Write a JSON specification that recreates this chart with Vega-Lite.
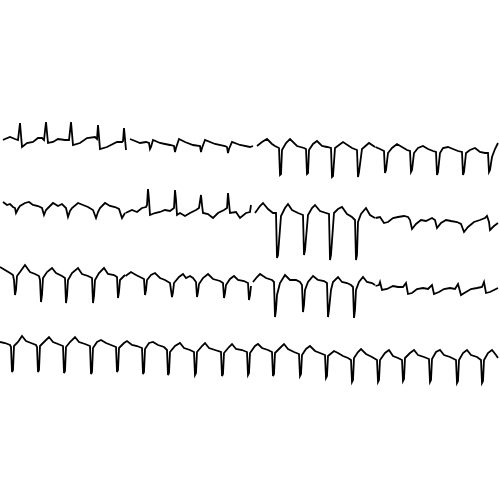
{
"$schema":"https://vega.github.io/schema/vega-lite/v6.json",
"width":500,"height":500,"padding":0,
"autosize":{"type":"fit","contains":"padding"},
"background":"white",
"config":{"view":{"stroke":null}},
"datasets":{"ecg":[
{"lead":"I","t":3,"v":140},{"lead":"I","t":5,"v":139},{"lead":"I","t":10,"v":137},{"lead":"I","t":15,"v":139},{"lead":"I","t":18,"v":140},{"lead":"I","t":20,"v":123},{"lead":"I","t":22,"v":147},{"lead":"I","t":27,"v":143},{"lead":"I","t":33,"v":142},{"lead":"I","t":38,"v":138},{"lead":"I","t":42,"v":138},{"lead":"I","t":44,"v":140},{"lead":"I","t":46,"v":122},{"lead":"I","t":48,"v":143},{"lead":"I","t":53,"v":142},{"lead":"I","t":58,"v":139},{"lead":"I","t":65,"v":140},{"lead":"I","t":69,"v":140},{"lead":"I","t":71,"v":122},{"lead":"I","t":73,"v":145},{"lead":"I","t":80,"v":143},{"lead":"I","t":87,"v":138},{"lead":"I","t":95,"v":137},{"lead":"I","t":97,"v":139},{"lead":"I","t":98,"v":125},{"lead":"I","t":100,"v":149},{"lead":"I","t":107,"v":147},{"lead":"I","t":117,"v":142},{"lead":"I","t":122,"v":142},{"lead":"I","t":123,"v":141},{"lead":"I","t":124,"v":128},{"lead":"I","t":126,"v":150},
{"lead":"aVR","t":130,"v":139},{"lead":"aVR","t":135,"v":141},{"lead":"aVR","t":140,"v":143},{"lead":"aVR","t":146,"v":142},{"lead":"aVR","t":149,"v":143},{"lead":"aVR","t":150,"v":149},{"lead":"aVR","t":151,"v":147},{"lead":"aVR","t":153,"v":140},{"lead":"aVR","t":160,"v":143},{"lead":"aVR","t":165,"v":144},{"lead":"aVR","t":170,"v":145},{"lead":"aVR","t":174,"v":146},{"lead":"aVR","t":175,"v":152},{"lead":"aVR","t":176,"v":148},{"lead":"aVR","t":179,"v":139},{"lead":"aVR","t":185,"v":142},{"lead":"aVR","t":193,"v":145},{"lead":"aVR","t":200,"v":146},{"lead":"aVR","t":201,"v":152},{"lead":"aVR","t":202,"v":148},{"lead":"aVR","t":205,"v":140},{"lead":"aVR","t":215,"v":144},{"lead":"aVR","t":225,"v":146},{"lead":"aVR","t":227,"v":147},{"lead":"aVR","t":228,"v":153},{"lead":"aVR","t":229,"v":149},{"lead":"aVR","t":232,"v":142},{"lead":"aVR","t":240,"v":145},{"lead":"aVR","t":250,"v":147},{"lead":"aVR","t":253,"v":146},
{"lead":"V1","t":257,"v":146},{"lead":"V1","t":262,"v":142},{"lead":"V1","t":267,"v":139},{"lead":"V1","t":272,"v":144},{"lead":"V1","t":275,"v":146},{"lead":"V1","t":279,"v":148},{"lead":"V1","t":280,"v":175},{"lead":"V1","t":281,"v":174},{"lead":"V1","t":282,"v":150},{"lead":"V1","t":286,"v":143},{"lead":"V1","t":290,"v":139},{"lead":"V1","t":297,"v":146},{"lead":"V1","t":304,"v":148},{"lead":"V1","t":306,"v":149},{"lead":"V1","t":307,"v":174},{"lead":"V1","t":308,"v":173},{"lead":"V1","t":309,"v":150},{"lead":"V1","t":313,"v":144},{"lead":"V1","t":317,"v":141},{"lead":"V1","t":322,"v":146},{"lead":"V1","t":327,"v":147},{"lead":"V1","t":331,"v":148},{"lead":"V1","t":332,"v":177},{"lead":"V1","t":333,"v":176},{"lead":"V1","t":335,"v":148},{"lead":"V1","t":343,"v":142},{"lead":"V1","t":352,"v":148},{"lead":"V1","t":357,"v":150},{"lead":"V1","t":358,"v":177},{"lead":"V1","t":359,"v":172},{"lead":"V1","t":362,"v":149},{"lead":"V1","t":369,"v":143},{"lead":"V1","t":375,"v":147},
{"lead":"V4","t":375.5,"v":147},{"lead":"V4","t":380,"v":149},{"lead":"V4","t":384,"v":151},{"lead":"V4","t":385,"v":173},{"lead":"V4","t":386,"v":170},{"lead":"V4","t":388,"v":153},{"lead":"V4","t":392,"v":148},{"lead":"V4","t":397,"v":144},{"lead":"V4","t":402,"v":147},{"lead":"V4","t":407,"v":150},{"lead":"V4","t":410,"v":151},{"lead":"V4","t":411,"v":172},{"lead":"V4","t":412,"v":170},{"lead":"V4","t":414,"v":153},{"lead":"V4","t":418,"v":148},{"lead":"V4","t":423,"v":146},{"lead":"V4","t":428,"v":149},{"lead":"V4","t":433,"v":151},{"lead":"V4","t":436,"v":152},{"lead":"V4","t":437,"v":175},{"lead":"V4","t":438,"v":172},{"lead":"V4","t":440,"v":153},{"lead":"V4","t":443,"v":148},{"lead":"V4","t":448,"v":147},{"lead":"V4","t":453,"v":149},{"lead":"V4","t":458,"v":151},{"lead":"V4","t":462,"v":152},{"lead":"V4","t":463,"v":175},{"lead":"V4","t":464,"v":172},{"lead":"V4","t":466,"v":153},{"lead":"V4","t":470,"v":150},{"lead":"V4","t":475,"v":148},{"lead":"V4","t":480,"v":152},{"lead":"V4","t":485,"v":153},{"lead":"V4","t":488,"v":153},{"lead":"V4","t":489,"v":172},{"lead":"V4","t":490,"v":170},{"lead":"V4","t":492,"v":157},{"lead":"V4","t":495,"v":149},{"lead":"V4","t":498,"v":143},
{"lead":"II","t":3,"v":202},{"lead":"II","t":7,"v":205},{"lead":"II","t":10,"v":204},{"lead":"II","t":13,"v":207},{"lead":"II","t":15,"v":208},{"lead":"II","t":16,"v":213},{"lead":"II","t":18,"v":209},{"lead":"II","t":20,"v":206},{"lead":"II","t":25,"v":203},{"lead":"II","t":29,"v":202},{"lead":"II","t":33,"v":205},{"lead":"II","t":38,"v":206},{"lead":"II","t":42,"v":208},{"lead":"II","t":44,"v":215},{"lead":"II","t":46,"v":210},{"lead":"II","t":48,"v":208},{"lead":"II","t":53,"v":203},{"lead":"II","t":58,"v":206},{"lead":"II","t":62,"v":204},{"lead":"II","t":66,"v":208},{"lead":"II","t":68,"v":217},{"lead":"II","t":70,"v":211},{"lead":"II","t":72,"v":208},{"lead":"II","t":78,"v":203},{"lead":"II","t":83,"v":205},{"lead":"II","t":88,"v":207},{"lead":"II","t":93,"v":210},{"lead":"II","t":96,"v":218},{"lead":"II","t":98,"v":212},{"lead":"II","t":100,"v":208},{"lead":"II","t":105,"v":203},{"lead":"II","t":110,"v":206},{"lead":"II","t":115,"v":207},{"lead":"II","t":119,"v":209},{"lead":"II","t":122,"v":218},{"lead":"II","t":125,"v":213},
{"lead":"aVL","t":125.5,"v":213},{"lead":"aVL","t":132,"v":210},{"lead":"aVL","t":137,"v":212},{"lead":"aVL","t":142,"v":208},{"lead":"aVL","t":146,"v":207},{"lead":"aVL","t":147,"v":205},{"lead":"aVL","t":148,"v":189},{"lead":"aVL","t":149,"v":200},{"lead":"aVL","t":150,"v":215},{"lead":"aVL","t":155,"v":213},{"lead":"aVL","t":160,"v":212},{"lead":"aVL","t":165,"v":210},{"lead":"aVL","t":170,"v":211},{"lead":"aVL","t":174,"v":208},{"lead":"aVL","t":175,"v":190},{"lead":"aVL","t":176,"v":200},{"lead":"aVL","t":177,"v":215},{"lead":"aVL","t":180,"v":213},{"lead":"aVL","t":185,"v":216},{"lead":"aVL","t":190,"v":213},{"lead":"aVL","t":196,"v":210},{"lead":"aVL","t":199,"v":208},{"lead":"aVL","t":201,"v":195},{"lead":"aVL","t":202,"v":205},{"lead":"aVL","t":203,"v":213},{"lead":"aVL","t":208,"v":214},{"lead":"aVL","t":213,"v":218},{"lead":"aVL","t":218,"v":213},{"lead":"aVL","t":224,"v":210},{"lead":"aVL","t":227,"v":208},{"lead":"aVL","t":228,"v":193},{"lead":"aVL","t":229,"v":203},{"lead":"aVL","t":230,"v":213},{"lead":"aVL","t":236,"v":212},{"lead":"aVL","t":240,"v":218},{"lead":"aVL","t":246,"v":213},{"lead":"aVL","t":250,"v":212},{"lead":"aVL","t":251,"v":205},
{"lead":"V2","t":255,"v":213},{"lead":"V2","t":260,"v":206},{"lead":"V2","t":263,"v":203},{"lead":"V2","t":268,"v":209},{"lead":"V2","t":273,"v":213},{"lead":"V2","t":276,"v":213},{"lead":"V2","t":277,"v":258},{"lead":"V2","t":278,"v":255},{"lead":"V2","t":281,"v":216},{"lead":"V2","t":285,"v":208},{"lead":"V2","t":288,"v":204},{"lead":"V2","t":292,"v":210},{"lead":"V2","t":298,"v":213},{"lead":"V2","t":303,"v":215},{"lead":"V2","t":304,"v":255},{"lead":"V2","t":305,"v":250},{"lead":"V2","t":308,"v":215},{"lead":"V2","t":312,"v":208},{"lead":"V2","t":315,"v":205},{"lead":"V2","t":320,"v":211},{"lead":"V2","t":326,"v":213},{"lead":"V2","t":329,"v":214},{"lead":"V2","t":330,"v":260},{"lead":"V2","t":331,"v":255},{"lead":"V2","t":334,"v":213},{"lead":"V2","t":338,"v":209},{"lead":"V2","t":342,"v":207},{"lead":"V2","t":347,"v":214},{"lead":"V2","t":352,"v":217},{"lead":"V2","t":355,"v":220},{"lead":"V2","t":356,"v":260},{"lead":"V2","t":357,"v":255},{"lead":"V2","t":358,"v":222},{"lead":"V2","t":361,"v":214},{"lead":"V2","t":366,"v":208},{"lead":"V2","t":370,"v":215},{"lead":"V2","t":375,"v":218},
{"lead":"V5","t":375.5,"v":218},{"lead":"V5","t":380,"v":217},{"lead":"V5","t":384,"v":223},{"lead":"V5","t":388,"v":222},{"lead":"V5","t":393,"v":218},{"lead":"V5","t":398,"v":217},{"lead":"V5","t":404,"v":216},{"lead":"V5","t":408,"v":217},{"lead":"V5","t":410,"v":220},{"lead":"V5","t":412,"v":229},{"lead":"V5","t":416,"v":224},{"lead":"V5","t":421,"v":220},{"lead":"V5","t":426,"v":221},{"lead":"V5","t":432,"v":218},{"lead":"V5","t":435,"v":220},{"lead":"V5","t":437,"v":228},{"lead":"V5","t":441,"v":223},{"lead":"V5","t":446,"v":220},{"lead":"V5","t":451,"v":221},{"lead":"V5","t":457,"v":222},{"lead":"V5","t":461,"v":224},{"lead":"V5","t":464,"v":232},{"lead":"V5","t":468,"v":227},{"lead":"V5","t":474,"v":222},{"lead":"V5","t":480,"v":220},{"lead":"V5","t":485,"v":218},{"lead":"V5","t":487,"v":216},{"lead":"V5","t":489,"v":222},{"lead":"V5","t":490,"v":230},{"lead":"V5","t":494,"v":226},{"lead":"V5","t":498,"v":223},
{"lead":"III","t":0,"v":267},{"lead":"III","t":5,"v":270},{"lead":"III","t":10,"v":273},{"lead":"III","t":13,"v":275},{"lead":"III","t":14,"v":280},{"lead":"III","t":15,"v":295},{"lead":"III","t":16,"v":290},{"lead":"III","t":17,"v":276},{"lead":"III","t":20,"v":272},{"lead":"III","t":25,"v":265},{"lead":"III","t":30,"v":272},{"lead":"III","t":35,"v":274},{"lead":"III","t":39,"v":276},{"lead":"III","t":40,"v":280},{"lead":"III","t":41,"v":302},{"lead":"III","t":42,"v":295},{"lead":"III","t":43,"v":278},{"lead":"III","t":47,"v":272},{"lead":"III","t":52,"v":268},{"lead":"III","t":56,"v":273},{"lead":"III","t":62,"v":276},{"lead":"III","t":65,"v":278},{"lead":"III","t":66,"v":303},{"lead":"III","t":67,"v":296},{"lead":"III","t":68,"v":280},{"lead":"III","t":72,"v":273},{"lead":"III","t":78,"v":268},{"lead":"III","t":82,"v":274},{"lead":"III","t":88,"v":276},{"lead":"III","t":92,"v":278},{"lead":"III","t":93,"v":303},{"lead":"III","t":94,"v":296},{"lead":"III","t":95,"v":280},{"lead":"III","t":99,"v":273},{"lead":"III","t":104,"v":268},{"lead":"III","t":108,"v":274},{"lead":"III","t":114,"v":275},{"lead":"III","t":117,"v":277},{"lead":"III","t":118,"v":298},{"lead":"III","t":119,"v":292},{"lead":"III","t":120,"v":280},{"lead":"III","t":125,"v":275},
{"lead":"aVF","t":125.5,"v":276},{"lead":"aVF","t":131,"v":272},{"lead":"aVF","t":136,"v":275},{"lead":"aVF","t":140,"v":277},{"lead":"aVF","t":144,"v":279},{"lead":"aVF","t":145,"v":295},{"lead":"aVF","t":146,"v":290},{"lead":"aVF","t":147,"v":280},{"lead":"aVF","t":151,"v":275},{"lead":"aVF","t":155,"v":273},{"lead":"aVF","t":160,"v":278},{"lead":"aVF","t":165,"v":280},{"lead":"aVF","t":170,"v":283},{"lead":"aVF","t":172,"v":297},{"lead":"aVF","t":173,"v":292},{"lead":"aVF","t":174,"v":283},{"lead":"aVF","t":179,"v":277},{"lead":"aVF","t":183,"v":274},{"lead":"aVF","t":186,"v":278},{"lead":"aVF","t":190,"v":276},{"lead":"aVF","t":193,"v":278},{"lead":"aVF","t":196,"v":282},{"lead":"aVF","t":197,"v":297},{"lead":"aVF","t":198,"v":292},{"lead":"aVF","t":199,"v":284},{"lead":"aVF","t":203,"v":278},{"lead":"aVF","t":208,"v":274},{"lead":"aVF","t":213,"v":279},{"lead":"aVF","t":220,"v":281},{"lead":"aVF","t":223,"v":283},{"lead":"aVF","t":224,"v":298},{"lead":"aVF","t":225,"v":293},{"lead":"aVF","t":226,"v":285},{"lead":"aVF","t":230,"v":279},{"lead":"aVF","t":234,"v":276},{"lead":"aVF","t":238,"v":280},{"lead":"aVF","t":244,"v":281},{"lead":"aVF","t":248,"v":283},{"lead":"aVF","t":249,"v":300},{"lead":"aVF","t":250,"v":295},{"lead":"aVF","t":251,"v":286},
{"lead":"V3","t":253,"v":282},{"lead":"V3","t":257,"v":277},{"lead":"V3","t":260,"v":274},{"lead":"V3","t":266,"v":278},{"lead":"V3","t":272,"v":280},{"lead":"V3","t":274,"v":282},{"lead":"V3","t":275,"v":317},{"lead":"V3","t":276,"v":310},{"lead":"V3","t":277,"v":295},{"lead":"V3","t":280,"v":283},{"lead":"V3","t":285,"v":275},{"lead":"V3","t":290,"v":280},{"lead":"V3","t":296,"v":280},{"lead":"V3","t":300,"v":282},{"lead":"V3","t":302,"v":285},{"lead":"V3","t":303,"v":312},{"lead":"V3","t":304,"v":305},{"lead":"V3","t":305,"v":290},{"lead":"V3","t":308,"v":282},{"lead":"V3","t":313,"v":276},{"lead":"V3","t":318,"v":280},{"lead":"V3","t":324,"v":281},{"lead":"V3","t":327,"v":283},{"lead":"V3","t":328,"v":317},{"lead":"V3","t":329,"v":310},{"lead":"V3","t":331,"v":290},{"lead":"V3","t":333,"v":282},{"lead":"V3","t":338,"v":277},{"lead":"V3","t":342,"v":282},{"lead":"V3","t":347,"v":283},{"lead":"V3","t":351,"v":285},{"lead":"V3","t":353,"v":287},{"lead":"V3","t":354,"v":318},{"lead":"V3","t":355,"v":310},{"lead":"V3","t":356,"v":290},{"lead":"V3","t":359,"v":282},{"lead":"V3","t":363,"v":277},{"lead":"V3","t":367,"v":282},{"lead":"V3","t":372,"v":283},{"lead":"V3","t":375,"v":285},
{"lead":"V6","t":375.5,"v":286},{"lead":"V6","t":379,"v":285},{"lead":"V6","t":380,"v":282},{"lead":"V6","t":382,"v":290},{"lead":"V6","t":387,"v":289},{"lead":"V6","t":393,"v":286},{"lead":"V6","t":398,"v":287},{"lead":"V6","t":403,"v":287},{"lead":"V6","t":406,"v":283},{"lead":"V6","t":408,"v":294},{"lead":"V6","t":412,"v":293},{"lead":"V6","t":417,"v":289},{"lead":"V6","t":423,"v":288},{"lead":"V6","t":428,"v":289},{"lead":"V6","t":432,"v":285},{"lead":"V6","t":434,"v":294},{"lead":"V6","t":439,"v":292},{"lead":"V6","t":444,"v":289},{"lead":"V6","t":450,"v":288},{"lead":"V6","t":455,"v":289},{"lead":"V6","t":458,"v":284},{"lead":"V6","t":461,"v":295},{"lead":"V6","t":466,"v":292},{"lead":"V6","t":471,"v":289},{"lead":"V6","t":477,"v":288},{"lead":"V6","t":482,"v":287},{"lead":"V6","t":484,"v":282},{"lead":"V6","t":486,"v":293},{"lead":"V6","t":490,"v":292},{"lead":"V6","t":494,"v":290},{"lead":"V6","t":498,"v":288},
{"lead":"II rhythm","t":0,"v":342},{"lead":"II rhythm","t":5,"v":343},{"lead":"II rhythm","t":10,"v":345},{"lead":"II rhythm","t":11,"v":347},{"lead":"II rhythm","t":12,"v":372},{"lead":"II rhythm","t":13,"v":370},{"lead":"II rhythm","t":14,"v":346},{"lead":"II rhythm","t":18,"v":342},{"lead":"II rhythm","t":22,"v":336},{"lead":"II rhythm","t":26,"v":341},{"lead":"II rhythm","t":31,"v":343},{"lead":"II rhythm","t":36,"v":345},{"lead":"II rhythm","t":37,"v":347},{"lead":"II rhythm","t":38,"v":372},{"lead":"II rhythm","t":39,"v":370},{"lead":"II rhythm","t":40,"v":346},{"lead":"II rhythm","t":44,"v":342},{"lead":"II rhythm","t":49,"v":337},{"lead":"II rhythm","t":53,"v":342},{"lead":"II rhythm","t":58,"v":344},{"lead":"II rhythm","t":63,"v":346},{"lead":"II rhythm","t":64,"v":373},{"lead":"II rhythm","t":65,"v":371},{"lead":"II rhythm","t":66,"v":347},{"lead":"II rhythm","t":70,"v":342},{"lead":"II rhythm","t":75,"v":337},{"lead":"II rhythm","t":79,"v":342},{"lead":"II rhythm","t":85,"v":344},{"lead":"II rhythm","t":90,"v":346},{"lead":"II rhythm","t":91,"v":374},{"lead":"II rhythm","t":92,"v":372},{"lead":"II rhythm","t":93,"v":348},{"lead":"II rhythm","t":97,"v":342},{"lead":"II rhythm","t":101,"v":340},{"lead":"II rhythm","t":106,"v":343},{"lead":"II rhythm","t":111,"v":345},{"lead":"II rhythm","t":116,"v":347},{"lead":"II rhythm","t":117,"v":372},{"lead":"II rhythm","t":118,"v":370},{"lead":"II rhythm","t":119,"v":348},{"lead":"II rhythm","t":124,"v":343},{"lead":"II rhythm","t":127,"v":341},{"lead":"II rhythm","t":132,"v":345},{"lead":"II rhythm","t":137,"v":346},{"lead":"II rhythm","t":142,"v":348},{"lead":"II rhythm","t":143,"v":374},{"lead":"II rhythm","t":144,"v":372},{"lead":"II rhythm","t":145,"v":349},{"lead":"II rhythm","t":149,"v":343},{"lead":"II rhythm","t":153,"v":342},{"lead":"II rhythm","t":158,"v":345},{"lead":"II rhythm","t":164,"v":347},{"lead":"II rhythm","t":167,"v":350},{"lead":"II rhythm","t":168,"v":375},{"lead":"II rhythm","t":169,"v":373},{"lead":"II rhythm","t":170,"v":352},{"lead":"II rhythm","t":175,"v":346},{"lead":"II rhythm","t":180,"v":343},{"lead":"II rhythm","t":184,"v":348},{"lead":"II rhythm","t":190,"v":350},{"lead":"II rhythm","t":194,"v":352},{"lead":"II rhythm","t":195,"v":375},{"lead":"II rhythm","t":196,"v":373},{"lead":"II rhythm","t":197,"v":352},{"lead":"II rhythm","t":202,"v":346},{"lead":"II rhythm","t":205,"v":343},{"lead":"II rhythm","t":209,"v":348},{"lead":"II rhythm","t":215,"v":350},{"lead":"II rhythm","t":221,"v":352},{"lead":"II rhythm","t":222,"v":376},{"lead":"II rhythm","t":223,"v":374},{"lead":"II rhythm","t":224,"v":353},{"lead":"II rhythm","t":229,"v":347},{"lead":"II rhythm","t":232,"v":344},{"lead":"II rhythm","t":236,"v":349},{"lead":"II rhythm","t":242,"v":350},{"lead":"II rhythm","t":247,"v":352},{"lead":"II rhythm","t":248,"v":375},{"lead":"II rhythm","t":249,"v":373},{"lead":"II rhythm","t":250,"v":353},{"lead":"II rhythm","t":255,"v":346},{"lead":"II rhythm","t":258,"v":344},{"lead":"II rhythm","t":262,"v":348},{"lead":"II rhythm","t":268,"v":350},{"lead":"II rhythm","t":272,"v":352},{"lead":"II rhythm","t":273,"v":376},{"lead":"II rhythm","t":274,"v":374},{"lead":"II rhythm","t":275,"v":353},{"lead":"II rhythm","t":280,"v":348},{"lead":"II rhythm","t":284,"v":344},{"lead":"II rhythm","t":288,"v":349},{"lead":"II rhythm","t":294,"v":352},{"lead":"II rhythm","t":299,"v":354},{"lead":"II rhythm","t":300,"v":376},{"lead":"II rhythm","t":301,"v":374},{"lead":"II rhythm","t":302,"v":355},{"lead":"II rhythm","t":306,"v":349},{"lead":"II rhythm","t":310,"v":346},{"lead":"II rhythm","t":315,"v":351},{"lead":"II rhythm","t":320,"v":353},{"lead":"II rhythm","t":325,"v":355},{"lead":"II rhythm","t":326,"v":378},{"lead":"II rhythm","t":327,"v":376},{"lead":"II rhythm","t":328,"v":356},{"lead":"II rhythm","t":334,"v":351},{"lead":"II rhythm","t":338,"v":353},{"lead":"II rhythm","t":343,"v":356},{"lead":"II rhythm","t":348,"v":358},{"lead":"II rhythm","t":351,"v":360},{"lead":"II rhythm","t":352,"v":382},{"lead":"II rhythm","t":353,"v":380},{"lead":"II rhythm","t":354,"v":358},{"lead":"II rhythm","t":358,"v":352},{"lead":"II rhythm","t":361,"v":349},{"lead":"II rhythm","t":366,"v":354},{"lead":"II rhythm","t":372,"v":357},{"lead":"II rhythm","t":377,"v":360},{"lead":"II rhythm","t":378,"v":382},{"lead":"II rhythm","t":379,"v":380},{"lead":"II rhythm","t":380,"v":360},{"lead":"II rhythm","t":385,"v":353},{"lead":"II rhythm","t":389,"v":350},{"lead":"II rhythm","t":393,"v":356},{"lead":"II rhythm","t":398,"v":358},{"lead":"II rhythm","t":402,"v":360},{"lead":"II rhythm","t":403,"v":381},{"lead":"II rhythm","t":404,"v":379},{"lead":"II rhythm","t":405,"v":358},{"lead":"II rhythm","t":410,"v":353},{"lead":"II rhythm","t":414,"v":350},{"lead":"II rhythm","t":418,"v":355},{"lead":"II rhythm","t":424,"v":357},{"lead":"II rhythm","t":429,"v":359},{"lead":"II rhythm","t":430,"v":382},{"lead":"II rhythm","t":431,"v":380},{"lead":"II rhythm","t":432,"v":359},{"lead":"II rhythm","t":436,"v":352},{"lead":"II rhythm","t":440,"v":350},{"lead":"II rhythm","t":444,"v":355},{"lead":"II rhythm","t":450,"v":357},{"lead":"II rhythm","t":456,"v":360},{"lead":"II rhythm","t":457,"v":383},{"lead":"II rhythm","t":458,"v":381},{"lead":"II rhythm","t":459,"v":360},{"lead":"II rhythm","t":463,"v":353},{"lead":"II rhythm","t":467,"v":350},{"lead":"II rhythm","t":471,"v":355},{"lead":"II rhythm","t":477,"v":357},{"lead":"II rhythm","t":481,"v":360},{"lead":"II rhythm","t":482,"v":383},{"lead":"II rhythm","t":483,"v":381},{"lead":"II rhythm","t":484,"v":360},{"lead":"II rhythm","t":488,"v":353},{"lead":"II rhythm","t":492,"v":350},{"lead":"II rhythm","t":496,"v":355},{"lead":"II rhythm","t":498,"v":358}
]},
"data":{"name":"ecg"},
"mark":{"type":"line","color":"black","strokeWidth":1.8,"clip":true},
"encoding":{
"x":{"field":"t","type":"quantitative","scale":{"domain":[0,500],"nice":false,"zero":false},"axis":null},
"y":{"field":"v","type":"quantitative","scale":{"domain":[0,500],"reverse":true,"nice":false,"zero":false},"axis":null},
"detail":{"field":"lead","type":"nominal"}
}
}
